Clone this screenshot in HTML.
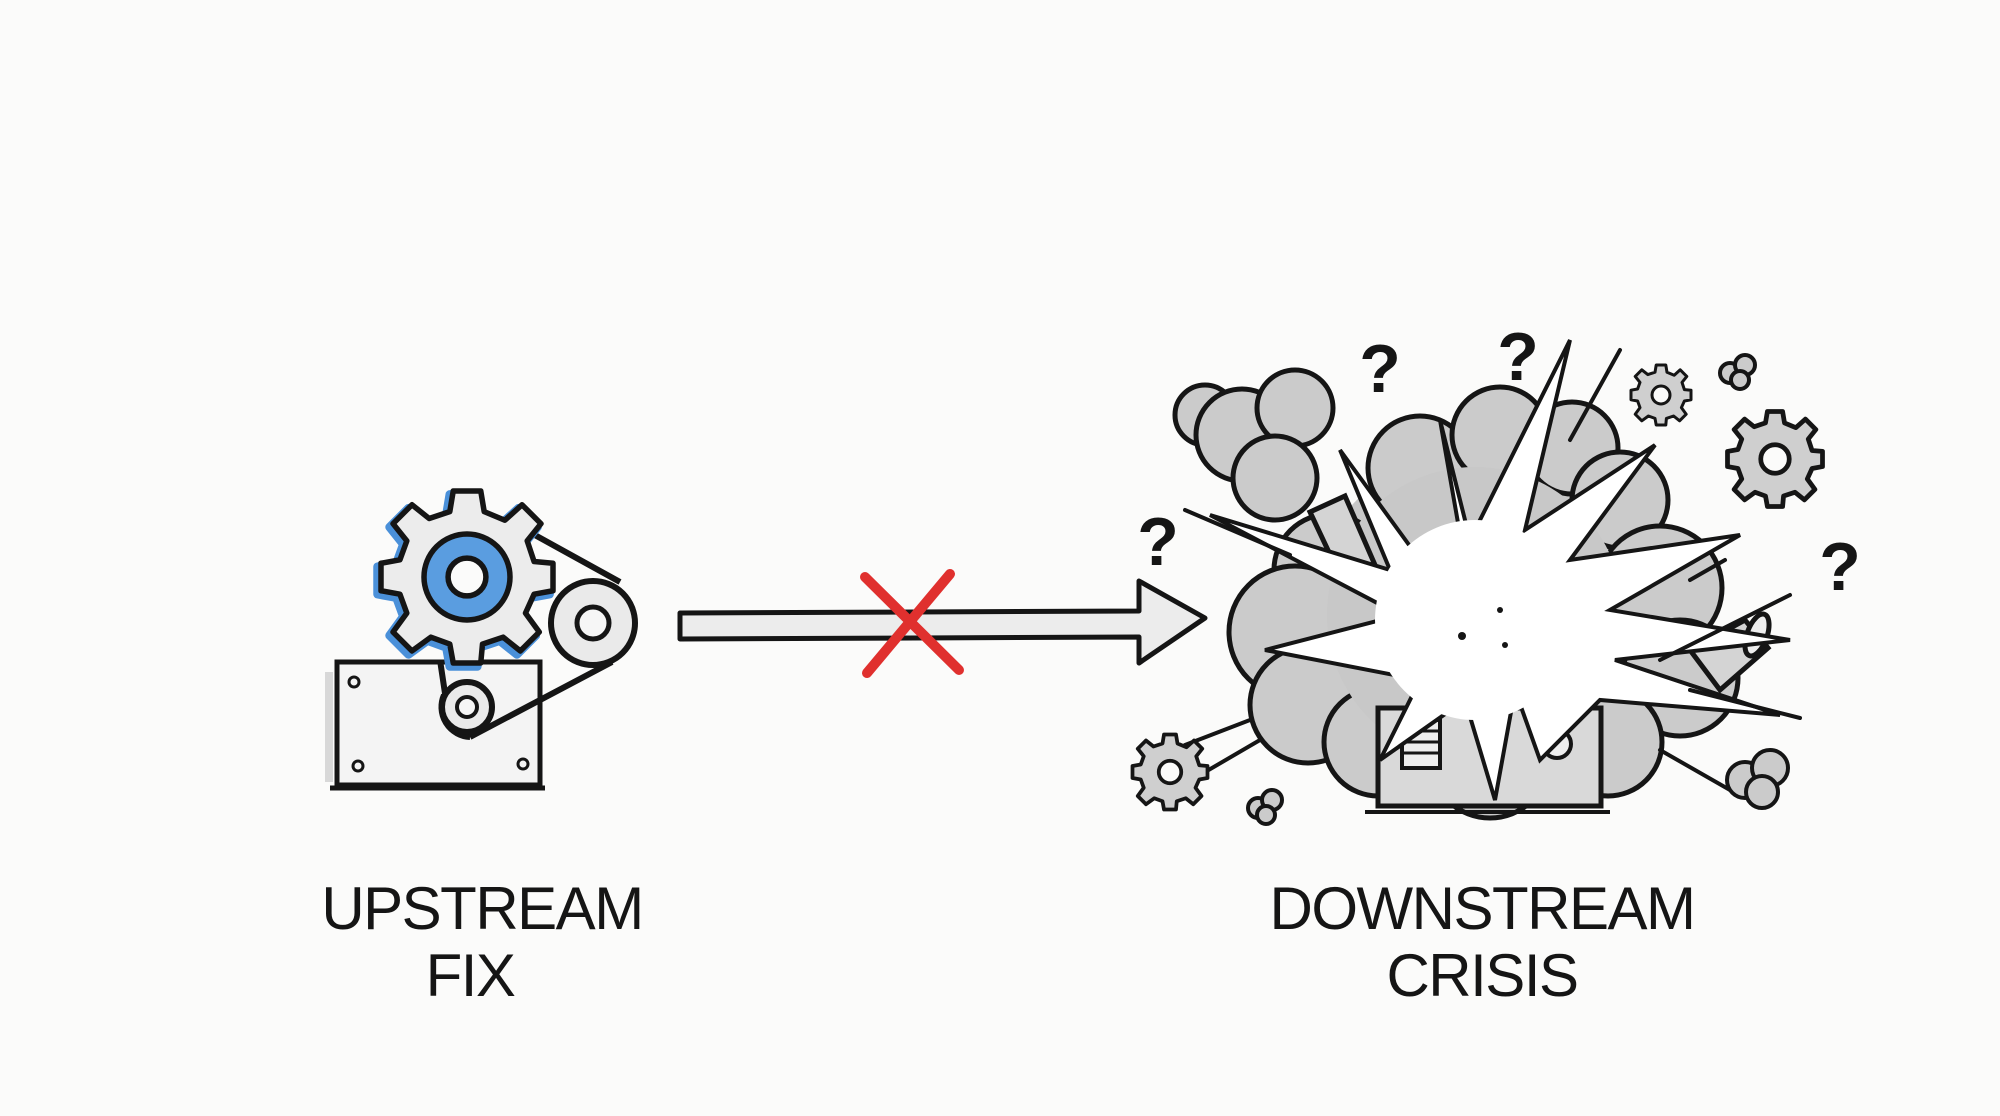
<!DOCTYPE html>
<html><head><meta charset="utf-8"><style>
html,body{margin:0;padding:0;background:#fbfbfa;}
body{width:2000px;height:1116px;overflow:hidden;position:relative;}
svg{position:absolute;left:0;top:0;}
.t{font-family:"Liberation Sans",sans-serif;font-size:60px;fill:#151515;text-anchor:middle;letter-spacing:-1.5px;}
</style></head><body>
<svg width="2000" height="1116" viewBox="0 0 2000 1116">
<defs>
<g id="gear">
<path d="M-8,-50 L8,-50 L10,-38 L22,-33 L32,-42 L43,-31 L35,-21 L39,-9 L50,-8 L50,8 L39,10 L34,21 L42,32 L31,43 L21,35 L9,39 L8,50 L-8,50 L-10,39 L-21,35 L-32,43 L-43,32 L-35,21 L-39,10 L-50,8 L-50,-8 L-39,-10 L-35,-21 L-43,-31 L-32,-42 L-22,-34 L-10,-38 Z" fill="#cfcfcf" stroke="#151515" stroke-width="5" stroke-linejoin="round"/>
<circle r="15" fill="#fbfbfa" stroke="#151515" stroke-width="5"/>
</g>
</defs>

<!-- LEFT MACHINE -->
<rect x="337" y="662" width="203" height="123" fill="#f4f4f4" stroke="#151515" stroke-width="5"/>
<rect x="325" y="672" width="8" height="110" fill="#d8d8d8"/>
<line x1="330" y1="788" x2="545" y2="788" stroke="#151515" stroke-width="5"/>
<circle cx="354" cy="682" r="5" fill="none" stroke="#151515" stroke-width="3"/>
<circle cx="358" cy="766" r="5" fill="none" stroke="#151515" stroke-width="3"/>
<circle cx="523" cy="764" r="5" fill="none" stroke="#151515" stroke-width="3"/>
<path d="M533,534 L620,582 M612,662 L470,737 M446,700 L440,660" stroke="#151515" stroke-width="6" fill="none"/>
<path d="M470,737 A30,30 0 0 1 444,695" stroke="#151515" stroke-width="6" fill="none"/>
<circle cx="593" cy="623" r="42" fill="#eaeaea" stroke="#151515" stroke-width="6"/>
<circle cx="593" cy="623" r="16" fill="#f6f6f6" stroke="#151515" stroke-width="5"/>
<g transform="translate(467,577) scale(1.72)">
<path d="M-8,-50 L8,-50 L10,-38 L22,-33 L32,-42 L43,-31 L35,-21 L39,-9 L50,-8 L50,8 L39,10 L34,21 L42,32 L31,43 L21,35 L9,39 L8,50 L-8,50 L-10,39 L-21,35 L-32,43 L-43,32 L-35,21 L-39,10 L-50,8 L-50,-8 L-39,-10 L-35,-21 L-43,-31 L-32,-42 L-22,-34 L-10,-38 Z" fill="#ececec" stroke="#4a90d9" stroke-width="5" stroke-linejoin="round" transform="translate(-2,2)"/>
<path d="M-8,-50 L8,-50 L10,-38 L22,-33 L32,-42 L43,-31 L35,-21 L39,-9 L50,-8 L50,8 L39,10 L34,21 L42,32 L31,43 L21,35 L9,39 L8,50 L-8,50 L-10,39 L-21,35 L-32,43 L-43,32 L-35,21 L-39,10 L-50,8 L-50,-8 L-39,-10 L-35,-21 L-43,-31 L-32,-42 L-22,-34 L-10,-38 Z" fill="#ececec" stroke="#151515" stroke-width="3.2" stroke-linejoin="round"/>
<circle r="25" fill="#5a9de0" stroke="#151515" stroke-width="3.2"/>
<circle r="11" fill="#fbfbfa" stroke="#151515" stroke-width="3.2"/>
</g>
<circle cx="467" cy="707" r="25" fill="#eaeaea" stroke="#151515" stroke-width="6"/>
<circle cx="467" cy="707" r="10" fill="#f6f6f6" stroke="#151515" stroke-width="4"/>

<!-- ARROW -->
<path d="M680,613 L1139,611 L1139,581 L1205,618 L1139,663 L1139,637 L680,639 Z" fill="#ececec" stroke="#151515" stroke-width="5" stroke-linejoin="round"/>
<line x1="865" y1="577" x2="959" y2="670" stroke="#e0302e" stroke-width="10" stroke-linecap="round"/>
<line x1="950" y1="574" x2="867" y2="673" stroke="#e0302e" stroke-width="10" stroke-linecap="round"/>

<!-- EXPLOSION -->
<circle cx="1475" cy="615" r="165" fill="#c8c8c8"/>
<g fill="#cbcbcb" stroke="#151515" stroke-width="5">
<circle cx="1205" cy="415" r="30"/>
<circle cx="1242" cy="435" r="46"/>
<circle cx="1295" cy="408" r="38"/>
<circle cx="1275" cy="478" r="42"/>
<circle cx="1420" cy="468" r="52"/>
<circle cx="1500" cy="435" r="48"/>
<circle cx="1572" cy="448" r="46"/>
<circle cx="1620" cy="500" r="48"/>
<circle cx="1330" cy="570" r="56"/>
<circle cx="1295" cy="632" r="66"/>
<circle cx="1308" cy="705" r="58"/>
<circle cx="1660" cy="588" r="62"/>
<circle cx="1680" cy="678" r="58"/>
<circle cx="1378" cy="742" r="54"/>
<circle cx="1608" cy="742" r="54"/>
<circle cx="1490" cy="758" r="60"/>
</g>
<circle cx="1475" cy="615" r="148" fill="#c8c8c8"/>
<path d="M1310,512 L1345,496 L1375,565 L1342,580 Z" fill="#d4d4d4" stroke="#151515" stroke-width="5"/>
<path d="M1690,650 L1745,620 L1768,648 L1720,690 Z" fill="#d4d4d4" stroke="#151515" stroke-width="5"/>
<ellipse cx="1757" cy="635" rx="10" ry="22" transform="rotate(20 1757 635)" fill="#eee" stroke="#151515" stroke-width="5"/>
<rect x="1378" y="708" width="223" height="98" fill="#d9d9d9" stroke="#151515" stroke-width="5"/>
<rect x="1402" y="720" width="38" height="48" fill="#eee" stroke="#151515" stroke-width="4"/>
<path d="M1404,731 H1438 M1404,742 H1438 M1404,753 H1438" stroke="#151515" stroke-width="3"/>
<circle cx="1557" cy="744" r="14" fill="#eee" stroke="#151515" stroke-width="4"/>
<line x1="1365" y1="812" x2="1610" y2="812" stroke="#151515" stroke-width="4"/>
<polygon points="1475,620 1440,420 1470,540 1570,340 1525,530 1655,445 1570,560 1740,535 1610,610 1790,640 1615,660 1780,715 1600,700 1540,760 1515,690 1495,800 1465,700 1380,760 1420,680 1265,650 1400,615 1210,515 1390,570 1340,450 1420,560" fill="#ffffff" stroke="#151515" stroke-width="4" stroke-linejoin="miter"/>
<circle cx="1475" cy="620" r="100" fill="#fff"/>
<circle cx="1462" cy="636" r="4" fill="#151515"/><circle cx="1500" cy="610" r="3" fill="#151515"/><circle cx="1505" cy="645" r="3" fill="#151515"/>
<g stroke="#151515" stroke-width="4" stroke-linecap="round">
<line x1="1185" y1="510" x2="1290" y2="555"/>
<line x1="1790" y1="595" x2="1660" y2="660"/>
<line x1="1800" y1="718" x2="1690" y2="690"/>
<line x1="1725" y1="560" x2="1690" y2="580"/>
<line x1="1185" y1="745" x2="1250" y2="720"/>
<line x1="1200" y1="775" x2="1260" y2="740"/>
<line x1="1730" y1="790" x2="1660" y2="750"/>
<line x1="1620" y1="350" x2="1570" y2="440"/>
</g>
<g transform="translate(1661,395) scale(0.6)"><use href="#gear"/></g>
<g transform="translate(1775,459) scale(0.95)"><use href="#gear"/></g>
<g transform="translate(1170,772) scale(0.75)"><use href="#gear"/></g>
<g fill="#cbcbcb" stroke="#151515" stroke-width="4">
<circle cx="1730" cy="373" r="10"/><circle cx="1745" cy="365" r="10"/><circle cx="1740" cy="380" r="9"/>
<circle cx="1258" cy="808" r="10"/><circle cx="1272" cy="800" r="10"/><circle cx="1266" cy="815" r="9"/>
<circle cx="1745" cy="780" r="18"/><circle cx="1770" cy="768" r="18"/><circle cx="1762" cy="792" r="16"/>
</g>
<g font-family="Liberation Sans, sans-serif" font-size="68" font-weight="bold" fill="#151515" text-anchor="middle">
<text x="1380" y="392">?</text>
<text x="1518" y="380">?</text>
<text x="1158" y="565">?</text>
<text x="1840" y="590">?</text>
</g>

<text class="t" x="482" y="929">UPSTREAM</text>
<text class="t" x="470" y="996">FIX</text>
<text class="t" x="1482" y="929">DOWNSTREAM</text>
<text class="t" x="1482" y="996">CRISIS</text>
</svg>
</body></html>
